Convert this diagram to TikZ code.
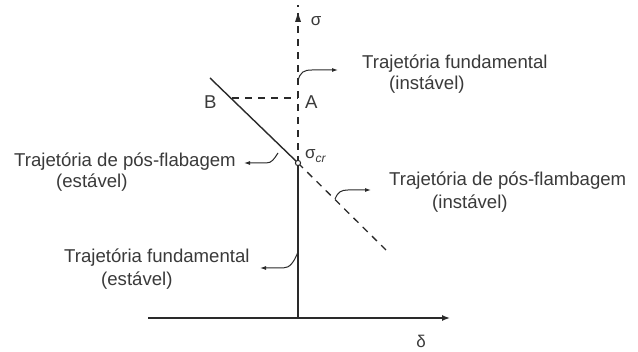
\documentclass[tikz,border=0pt]{standalone}
\usepackage{fontspec}
\setmainfont{Liberation Sans}
\usetikzlibrary{arrows.meta}
\definecolor{ink}{HTML}{2A2A2A}
\definecolor{txt}{HTML}{3A3A3A}
\tikzset{
  axis/.style={draw=ink, line width=1.4pt},
  dash line/.style={draw=ink, line width=1.3pt, dash pattern=on 7pt off 6pt},
  leader/.style={draw=ink, line width=1pt, -{Latex[length=6pt,width=4pt]}},
  lbl/.style={text=txt, inner sep=0pt, anchor=west, font=\fontsize{18.6}{21}\selectfont},
  sym/.style={text=txt, inner sep=0pt, font=\fontsize{17}{19}\selectfont},
}
\begin{document}
\begin{tikzpicture}[x=1pt,y=-1pt]
\useasboundingbox (0,0) rectangle (638,352);
\fill[white] (0,0) rectangle (638,352);
% key points
\coordinate (O) at (298,318);
\coordinate (xs) at (148,318);
\coordinate (xe) at (450,318);
\coordinate (C) at (298,163);
\coordinate (ytop) at (298,13);
\coordinate (dtop) at (210,78);
\coordinate (dend) at (386,250);
\coordinate (A) at (298,98);
\coordinate (Bd) at (232,98);
% axes
\draw[axis, -{Latex[length=8pt,width=6pt]}] (xs) -- (xe);
\draw[axis] (O) -- (C);
\draw[dash line] (C) -- ([yshift=8pt]ytop);
\fill[ink] (ytop) -- ++(-3,9) -- ++(6,0) -- cycle;
% post-buckling line
\draw[axis] (dtop) -- (C);
\draw[dash line] (C) -- (dend);
\draw[dash line] (Bd) -- (A);
\draw[ink, line width=1pt, fill=white] (C) circle (2.6);
% labels
\node[sym] (sig) at (316,21) {σ};
\node[sym, anchor=west] (sigcr) at (305,156) {σ\raisebox{-0.35ex}{\fontsize{12}{13}\selectfont \textit{cr}}};
\node[sym] (del) at (421,341) {δ};
\node[lbl] (Bl) at (204,102) {B};
\node[lbl] (Al) at (305,102) {A};
\node[lbl] (tf1) at (362,64) {Trajetória fundamental};
\node[lbl] (tf1b) at (389,85) {(instável)};
\node[lbl] (pf1) at (14,162) {Trajetória de pós-flabagem};
\node[lbl] (pf1b) at (56,183) {(estável)};
\node[lbl] (pf2) at (389,181) {Trajetória de pós-flambagem};
\node[lbl] (pf2b) at (432,204) {(instável)};
\node[lbl] (tf2) at (64,258) {Trajetória fundamental};
\node[lbl] (tf2b) at (101,281) {(estável)};
% leaders
\coordinate (l1s) at (298,81);
\coordinate (l1e) at (338,70);
\draw[leader] (l1s) .. controls (300,72) and (304,70) .. (312,70) -- (l1e);
\coordinate (l2s) at (278,153);
\coordinate (l2e) at (244,163);
\draw[leader] (l2s) .. controls (274,159) and (272,163) .. (266,163) -- (l2e);
\coordinate (l3s) at (335,199);
\coordinate (l3e) at (371,190);
\draw[leader] (l3s) .. controls (338,192) and (341,190) .. (348,190) -- (l3e);
\coordinate (l4s) at (298,252);
\coordinate (l4e) at (260,268);
\draw[leader] (l4s) .. controls (294,262) and (290,268) .. (283,268) -- (l4e);
\end{tikzpicture}
\end{document}
